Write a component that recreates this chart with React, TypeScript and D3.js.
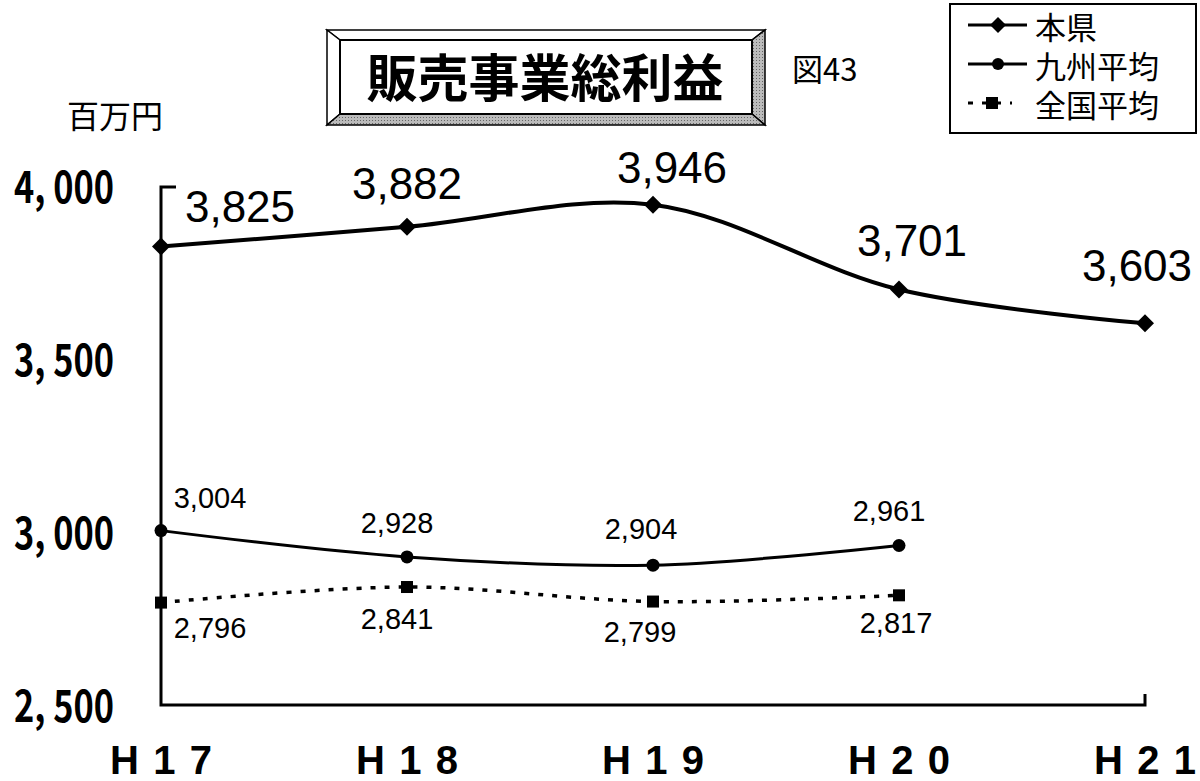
import React from 'react';
import * as d3 from 'd3';

const years = ['H17', 'H18', 'H19', 'H20', 'H21'];
const honken = [3825, 3882, 3946, 3701, 3603];
const kyushu = [3004, 2928, 2904, 2961];
const zenkoku = [2796, 2841, 2799, 2817];
const yTicks = [2500, 3000, 3500, 4000];

// label offsets relative to each marker (dx, dy to baseline)
const honkenLabelOff = [[79, -25], [0, -28], [19, -22], [13, -33], [-8, -42]];
const kyushuLabelOff = [[49, -23], [-10, -24], [-12, -26], [-10, -24]];
const zenkokuLabelOff = [[49, 35], [-10, 42], [-13, 40], [-3, 38]];

const fmt = d3.format(',');
const W = 1200;
const H = 781;

export default function App() {
  const x = d3.scalePoint<string>().domain(years).range([161, 1145]);
  const y = d3.scaleLinear().domain([2500, 4000]).range([705, 186]);

  const line = d3
    .line<number>()
    .x((_, i) => x(years[i]) as number)
    .y((d) => y(d))
    .curve(d3.curveCatmullRom.alpha(0.5));

  const diamond = (cx: number, cy: number, r: number) =>
    `M${cx},${cy - r}L${cx + r},${cy}L${cx},${cy + r}L${cx - r},${cy}Z`;

  const jp = '"Noto Sans CJK JP", sans-serif';
  const num = '"Liberation Sans", Arial, sans-serif';

  return (
    <svg
      width={W}
      height={H}
      style={{ position: 'absolute', left: 0, top: 0, background: '#fff' }}
    >
      <defs>
        <pattern id="dots" width="3" height="3" patternUnits="userSpaceOnUse">
          <rect width="3" height="3" fill="#bbb" />
          <rect width="1" height="1" fill="#666" />
        </pattern>
      </defs>

      {/* title frame */}
      <g>
        <polygon points="327,30 765,30 752,40 340,40" fill="#fff" stroke="#000" strokeWidth={1.5} />
        <polygon points="327,30 340,40 340,114 327,125" fill="#fff" stroke="#000" strokeWidth={1.5} />
        <polygon points="765,30 765,125 752,114 752,40" fill="url(#dots)" stroke="#000" strokeWidth={1.5} />
        <polygon points="327,125 340,114 752,114 765,125" fill="url(#dots)" stroke="#000" strokeWidth={1.5} />
        <rect x={340} y={40} width={412} height={74} fill="#fff" stroke="#000" strokeWidth={2} />
        <text
          x={545}
          y={75}
          textAnchor="middle"
          dominantBaseline="central"
          fontFamily={jp}
          fontWeight={700}
          fontSize={51}
        >
          販売事業総利益
        </text>
      </g>
      <text x={792} y={67} dominantBaseline="central" fontFamily={jp} fontSize={31}>
        図43
      </text>
      <text x={67} y={114} dominantBaseline="central" fontFamily={jp} fontSize={32}>
        百万円
      </text>

      {/* legend */}
      <g>
        <rect x={950} y={4} width={246} height={129} fill="#fff" stroke="#000" strokeWidth={2} />
        <line x1={968} x2={1027} y1={25} y2={25} stroke="#000" strokeWidth={3} />
        <path d={diamond(998, 25, 8)} fill="#000" />
        <text x={1035} y={25} dominantBaseline="central" fontFamily={jp} fontSize={31}>本県</text>
        <line x1={968} x2={1027} y1={64} y2={64} stroke="#000" strokeWidth={3} />
        <circle cx={998} cy={64} r={6} fill="#000" />
        <text x={1035} y={64} dominantBaseline="central" fontFamily={jp} fontSize={31}>九州平均</text>
        <line x1={968} x2={1012} y1={103} y2={103} stroke="#000" strokeWidth={3} strokeDasharray="5,9" />
        <rect x={986} y={97} width={12} height={12} fill="#000" />
        <text x={1035} y={103} dominantBaseline="central" fontFamily={jp} fontSize={31}>全国平均</text>
      </g>

      {/* axes */}
      <path d="M176,187H161V705H1145V694" fill="none" stroke="#000" strokeWidth={3} />
      {yTicks.map((t) => (
        <text
          key={t}
          x={14}
          y={y(t) + 17}
          fontFamily={jp}
          fontWeight={700}
          fontSize={44}
          textLength={100}
          lengthAdjust="spacingAndGlyphs"
        >
          {fmt(t).replace(',', ', ')}
        </text>
      ))}
      {years.map((yr) => (
        <text
          key={yr}
          x={(x(yr) as number) - 51}
          y={774}
          fontFamily={num}
          fontWeight={700}
          fontSize={40}
          textLength={102}
          lengthAdjust="spacing"
        >
          {yr}
        </text>
      ))}

      {/* 本県 */}
      <path d={line(honken) ?? ''} fill="none" stroke="#000" strokeWidth={4} />
      {honken.map((v, i) => (
        <g key={`h${i}`}>
          <path d={diamond(x(years[i]) as number, y(v), 9)} fill="#000" />
          <text
            x={(x(years[i]) as number) + honkenLabelOff[i][0]}
            y={y(v) + honkenLabelOff[i][1]}
            textAnchor="middle"
            fontFamily={num}
            fontSize={44}
          >
            {fmt(v)}
          </text>
        </g>
      ))}

      {/* 九州平均 */}
      <path d={line(kyushu) ?? ''} fill="none" stroke="#000" strokeWidth={3} />
      {kyushu.map((v, i) => (
        <g key={`k${i}`}>
          <circle cx={x(years[i]) as number} cy={y(v)} r={6.5} fill="#000" />
          <text
            x={(x(years[i]) as number) + kyushuLabelOff[i][0]}
            y={y(v) + kyushuLabelOff[i][1]}
            textAnchor="middle"
            fontFamily={num}
            fontSize={29}
          >
            {fmt(v)}
          </text>
        </g>
      ))}

      {/* 全国平均 */}
      <path d={line(zenkoku) ?? ''} fill="none" stroke="#000" strokeWidth={3.5} strokeDasharray="5,9" />
      {zenkoku.map((v, i) => (
        <g key={`z${i}`}>
          <rect x={(x(years[i]) as number) - 6} y={y(v) - 6} width={12} height={12} fill="#000" />
          <text
            x={(x(years[i]) as number) + zenkokuLabelOff[i][0]}
            y={y(v) + zenkokuLabelOff[i][1]}
            textAnchor="middle"
            fontFamily={num}
            fontSize={29}
          >
            {fmt(v)}
          </text>
        </g>
      ))}
    </svg>
  );
}
